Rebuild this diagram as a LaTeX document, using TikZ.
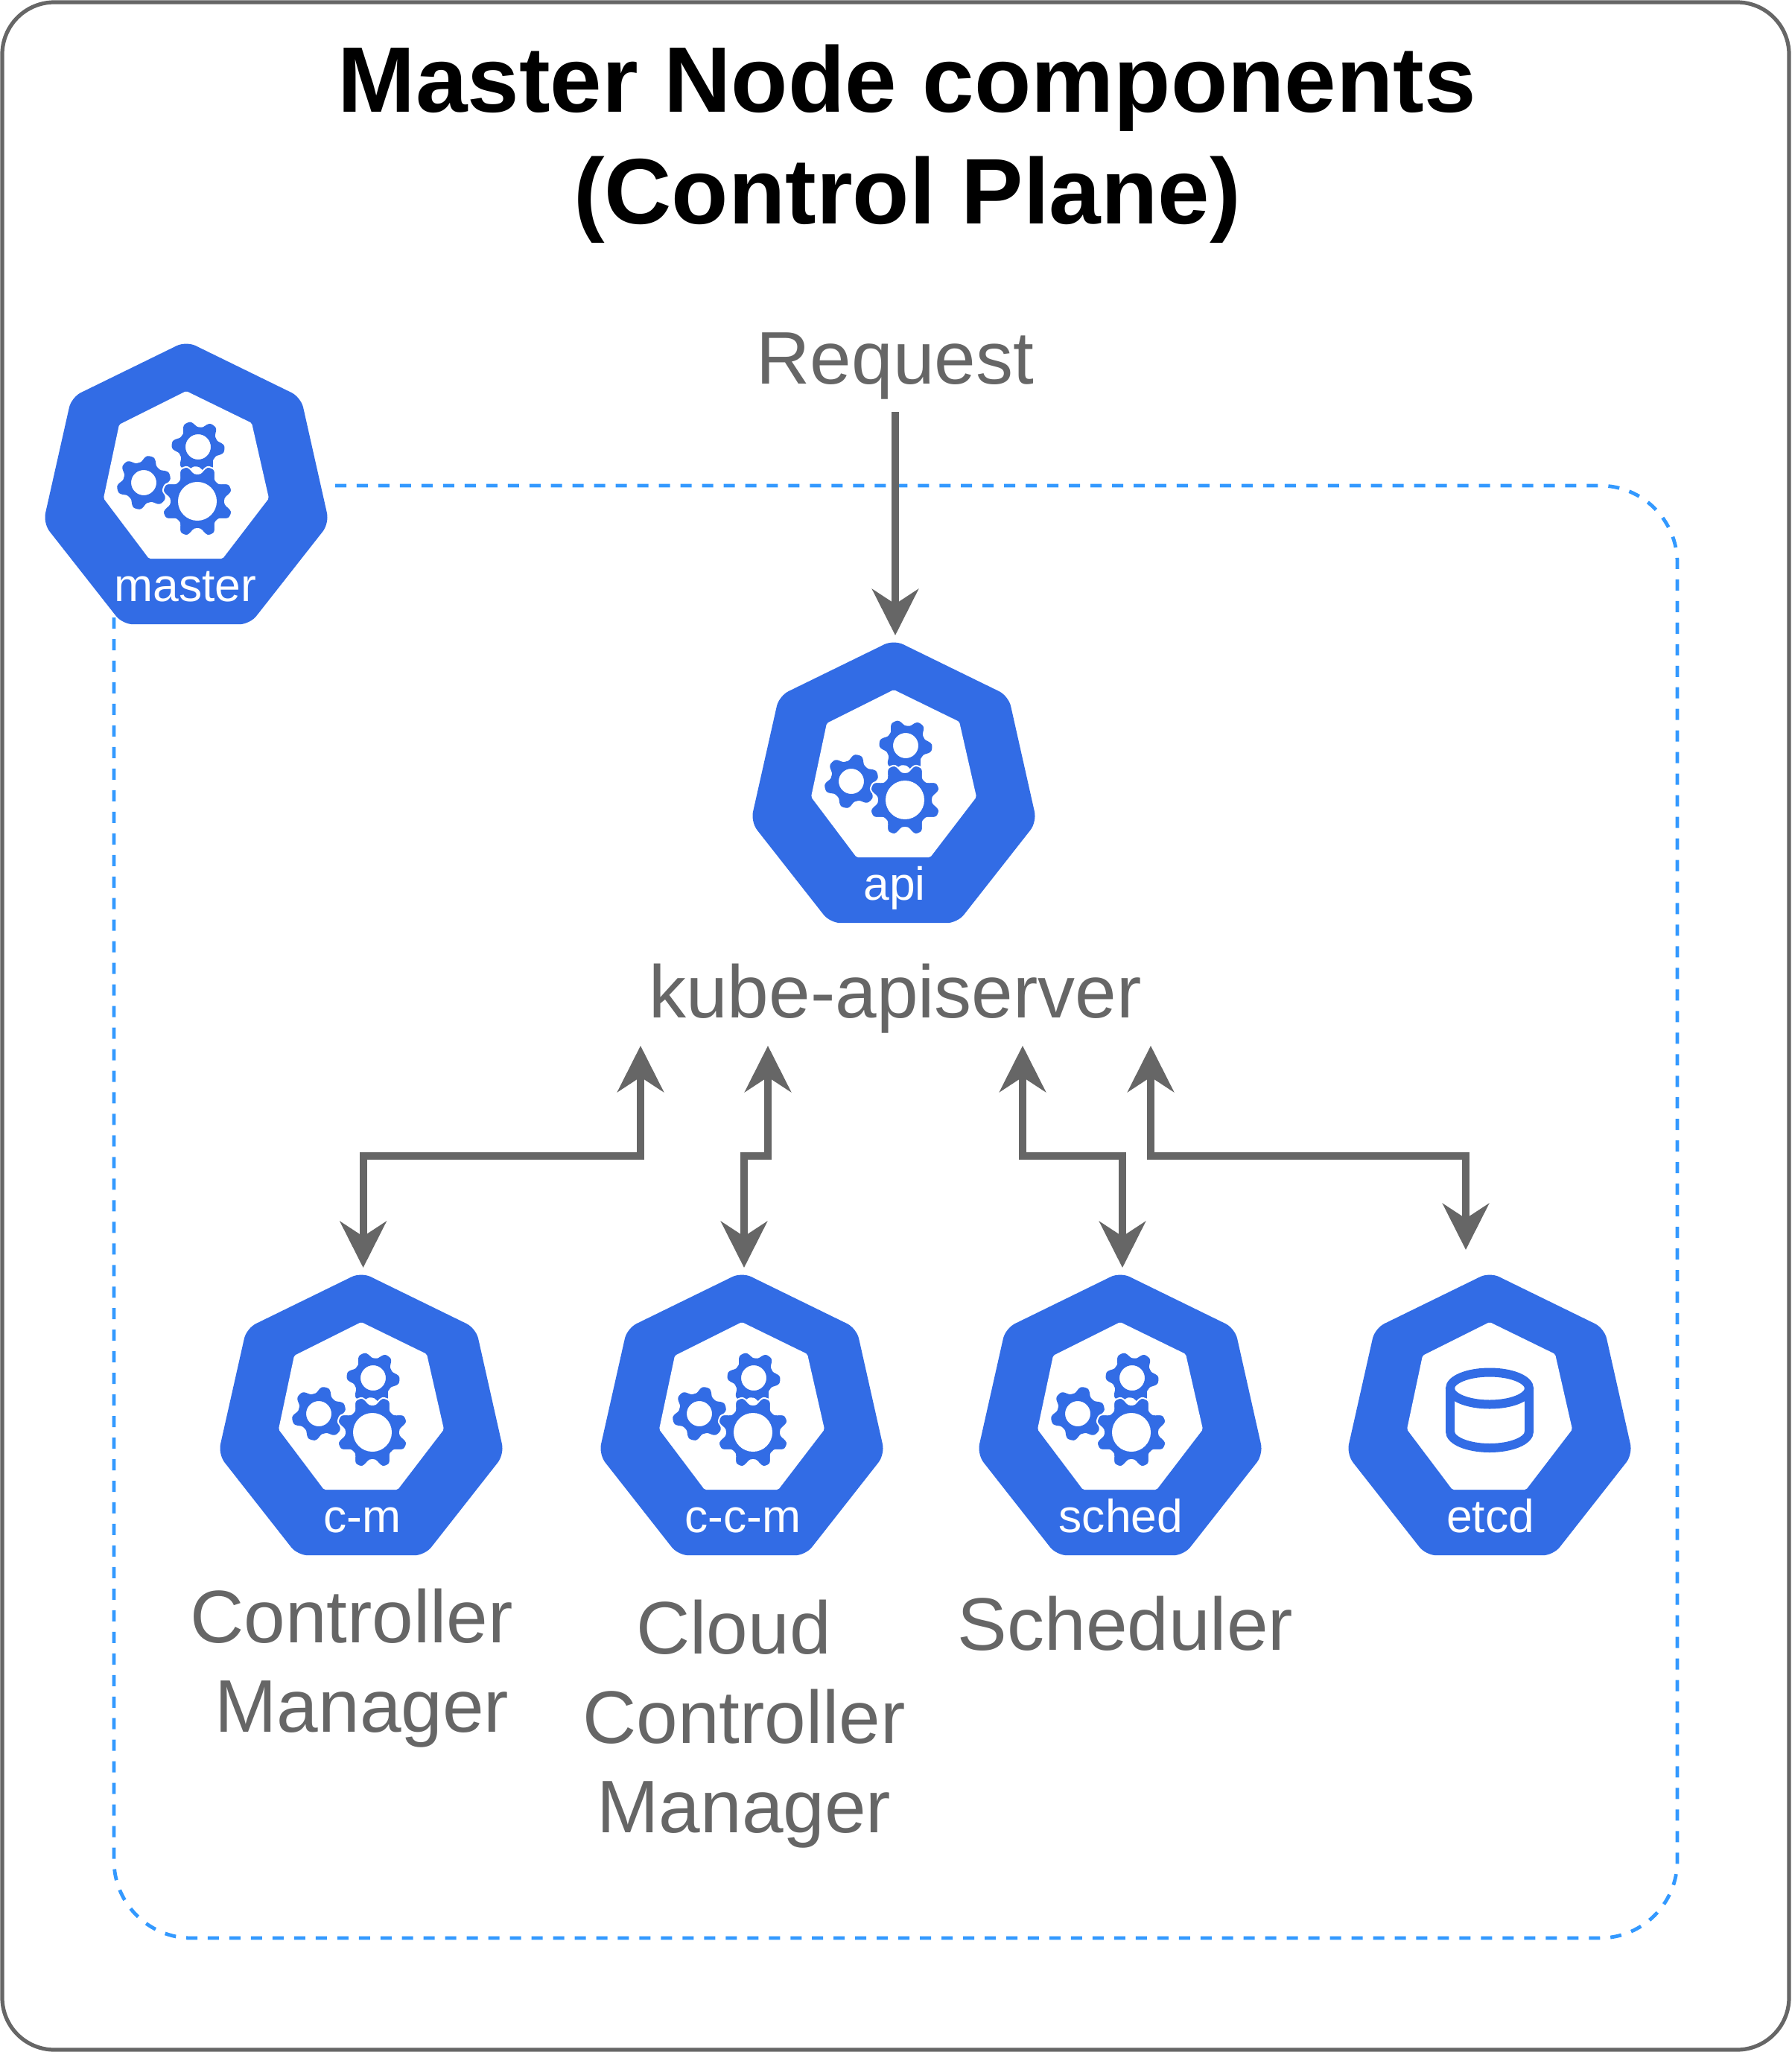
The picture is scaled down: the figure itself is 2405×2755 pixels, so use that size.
\documentclass[tikz,border=0pt]{standalone}
\usepackage{fontspec}
\setmainfont{Liberation Sans}
\usetikzlibrary{arrows.meta,shapes.geometric}
\definecolor{kubeblue}{HTML}{326CE5}
\definecolor{linegray}{HTML}{666666}
\definecolor{zoneblue}{HTML}{3399FF}

\begin{document}
\begin{tikzpicture}[
        x=0.5pt,y=-0.5pt,
        >={Stealth[length=31pt,width=31pt,inset=10pt]},
        kube/.style={
          regular polygon,
          regular polygon sides=7,
          minimum size=200pt,
          inner sep=0pt,
          outer sep=0pt,
          rounded corners=7pt,
          xscale=0.985,
          transform shape,
          fill=kubeblue
        },
        tag/.style={
          anchor=base,
          inner sep=0pt,
          text=white,
          font=\fontsize{31.2pt}{38pt}\selectfont
        },
        caption/.style={
          align=center,
          inner sep=0pt,
          text=linegray,
          font=\fontsize{50pt}{60pt}\selectfont
        },
        flow/.style={
          draw=linegray,
          line width=5pt
        },
        face/.pic={
          \fill[white,rounded corners=1pt] (0,-133) -- (88,-90) -- (111,11) -- (49,92)
            -- (-50,92) -- (-111,11) -- (-90,-88) -- cycle;
        },
        cogs/.pic={
          \pic {face};
          \fill[kubeblue,even odd rule,shift={(-57,-10)}]
            plot[domain=0:360,samples=121] (\x:{32+5*(cos(6*(\x+15))-cos(18*(\x+15))/9)}) -- cycle
            (0,0) circle [radius=17];
          \fill[kubeblue,even odd rule,shift={(16,-58)}]
            plot[domain=0:360,samples=121] (\x:{31+5*(cos(6*(\x+55))-cos(18*(\x+55))/9)}) -- cycle
            (0,0) circle [radius=17];
          \filldraw[kubeblue,draw=white,line width=1pt,even odd rule,shift={(15,15)}]
            plot[domain=0:360,samples=161] (\x:{43+6.5*(cos(8*(\x+22.5))-cos(24*(\x+22.5))/9)}) -- cycle
            (0,0) circle [radius=25];
        },
        drum/.pic={
          \pic {face};
          \draw[kubeblue,line width=6pt] (0,-44) ellipse [x radius=53,y radius=21.5];
          \draw[kubeblue,line width=6pt] (-53,-44) -- (-53,14)
            arc [start angle=180,end angle=0,x radius=53,y radius=22] -- (53,-44);
        }
        ]
        % frame and dashed zone
        \draw[linegray,line width=2.6pt,rounded corners=35pt] (3,3) rectangle (2402,2752);
        \useasboundingbox (0,0) rectangle (2405,2755);
        \draw[zoneblue,line width=2.4pt,rounded corners=52pt,dash pattern=on 7.5pt off 6.9865pt]
          (450,652) -- (2252,652) -- (2252,2602) -- (153,2602) -- (153,652) -- (425,652);

        \node[align=center,inner sep=0pt,font=\fontsize{62.5pt}{75pt}\selectfont\bfseries] (title)
          at (1218,193) {Master Node components\\(Control Plane)};
        \node[caption] (request) at (1202,491) {Request};

        % master
        \node[kube] (master) at (250,658) {};
        \pic at (master) {cogs};
        \node[tag] (mastertag) at ([xshift=-0.5pt,yshift=-74.5pt]master.center) {master};

        % api server
        \node[kube] (api) at (1200,1059) {};
        \pic at (api) {cogs};
        \node[tag] (apitag) at ([xshift=0.5pt,yshift=-74.5pt]api.center) {api};
        \node[caption] (apiname) at (1202,1341) {kube-apiserver};

        % workers along the bottom
        \node[kube] (cm) at (485,1908) {};
        \pic at (cm) {cogs};
        \node[tag] (cmtag) at ([xshift=0.5pt,yshift=-74.5pt]cm.center) {c-m};
        \node[kube] (ccm) at (996,1908) {};
        \pic at (ccm) {cogs};
        \node[tag] (ccmtag) at ([xshift=0.5pt,yshift=-74.5pt]ccm.center) {c-c-m};
        \node[kube] (sched) at (1504,1908) {};
        \pic at (sched) {cogs};
        \node[tag] (schedtag) at ([xshift=0.5pt,yshift=-74.5pt]sched.center) {sched};
        \node[kube] (etcd) at (2000,1908) {};
        \pic at (etcd) {drum};
        \node[tag] (etcdtag) at ([xshift=0.5pt,yshift=-74.5pt]etcd.center) {etcd};

        \node[caption] (cmname) at (486,2240) {Controller\hspace*{13.9pt}\\Manager};
        \node[caption] (ccmname) at (999,2315) {Cloud\hspace*{13.9pt}\\Controller\\Manager};
        \node[caption] (schedname) at (1511,2180) {Scheduler};

        % ends of the arrows under kube-apiserver
        \coordinate (porta) at (860,1404);
        \coordinate (portb) at (1031,1404);
        \coordinate (portc) at (1373,1404);
        \coordinate (portd) at (1545,1404);
        \coordinate (bus) at (0,1552);
        \coordinate (reqend) at (0,553);

        \draw[flow,->] (request |- reqend) -- ([yshift=3pt]request |- api.north);
        \draw[flow,<->] (porta) -- (porta |- bus) -| ([xshift=1.3pt,yshift=3pt]cm.north);
        \draw[flow,<->] (portb) -- (portb |- bus) -| ([xshift=1.5pt,yshift=3pt]ccm.north);
        \draw[flow,<->] (portc) -- (portc |- bus) -| ([xshift=1.5pt,yshift=3pt]sched.north);
        \draw[flow,<->] (portd) -- (portd |- bus) -| ([xshift=-16pt,yshift=15pt]etcd.north);
    \end{tikzpicture}
\end{document}
